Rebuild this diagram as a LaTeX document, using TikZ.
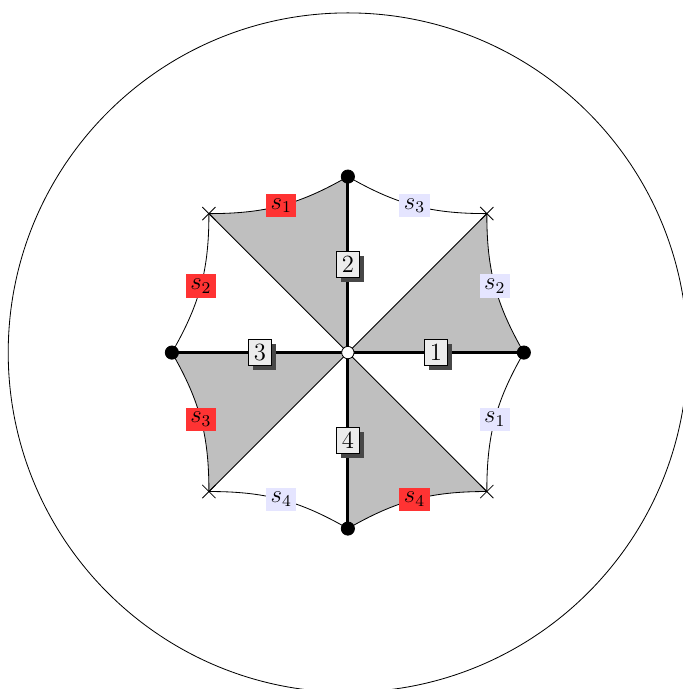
\documentclass[tikz,border=0pt]{standalone}
\usepackage{amsmath}
\usepackage{xcolor}
\usetikzlibrary{shadows}
\usetikzlibrary{shapes.misc}
\tikzset{
  numbox/.style={draw, thin, fill=gray!15, font=\large, inner sep=2.6pt,
    drop shadow={shadow xshift=2.1pt, shadow yshift=-2.1pt, fill=black!72, opacity=1}},
  redlab/.style={fill=red!80, font=\large, inner sep=2.2pt},
  bluelab/.style={fill=blue!10, font=\large, inner sep=2.2pt},
  crossmark/.style={cross out, draw, thin, minimum size=6pt, inner sep=0pt},
}

\begin{document}
\begin{tikzpicture}

  \useasboundingbox (-5.93,-5.735) rectangle (5.71,6.01);

  \def\R{3}
  \def\Q{3.35}
  \def\b{15}

  \coordinate (O) at (0,0);
  \coordinate (p1) at (0:\R);
  \coordinate (p2) at (90:\R);
  \coordinate (p3) at (180:\R);
  \coordinate (p4) at (270:\R);
  \coordinate (q1) at (45:\Q);
  \coordinate (q2) at (135:\Q);
  \coordinate (q3) at (225:\Q);
  \coordinate (q4) at (315:\Q);

  \draw (O) circle (5.79);

  % shaded sectors
  \fill[gray!50] (O) -- (p1) to[bend left=\b] (q1) -- cycle;
  \fill[gray!50] (O) -- (p2) to[bend left=\b] (q2) -- cycle;
  \fill[gray!50] (O) -- (p3) to[bend left=\b] (q3) -- cycle;
  \fill[gray!50] (O) -- (p4) to[bend left=\b] (q4) -- cycle;

  \draw (O) -- (q1);
  \draw (O) -- (q2);
  \draw (O) -- (q3);
  \draw (O) -- (q4);

  \draw[line width=1.4pt] (O) -- (p1) node[numbox, midway] (n1) {$1$};
  \draw[line width=1.4pt] (O) -- (p2) node[numbox, midway] (n2) {$2$};
  \draw[line width=1.4pt] (O) -- (p3) node[numbox, midway] (n3) {$3$};
  \draw[line width=1.4pt] (O) -- (p4) node[numbox, midway] (n4) {$4$};

  \draw (p1) to[bend left=\b] node[bluelab] (e1) {$s_2$} (q1);
  \draw (q1) to[bend left=\b] node[bluelab] (e2) {$s_3$} (p2);
  \draw (p2) to[bend left=\b] node[redlab] (e3) {$s_1$} (q2);
  \draw (q2) to[bend left=\b] node[redlab] (e4) {$s_2$} (p3);
  \draw (p3) to[bend left=\b] node[redlab] (e5) {$s_3$} (q3);
  \draw (q3) to[bend left=\b] node[bluelab] (e6) {$s_4$} (p4);
  \draw (p4) to[bend left=\b] node[redlab] (e7) {$s_4$} (q4);
  \draw (q4) to[bend left=\b] node[bluelab] (e8) {$s_1$} (p1);

  \filldraw[fill=black] (p1) circle (3.2pt);
  \filldraw[fill=black] (p2) circle (3.2pt);
  \filldraw[fill=black] (p3) circle (3.2pt);
  \filldraw[fill=black] (p4) circle (3.2pt);
  \filldraw[fill=white] (O) circle (3pt);

  \node[crossmark] (m1) at (q1) {};
  \node[crossmark] (m2) at (q2) {};
  \node[crossmark] (m3) at (q3) {};
  \node[crossmark] (m4) at (q4) {};

\end{tikzpicture}
\end{document}
